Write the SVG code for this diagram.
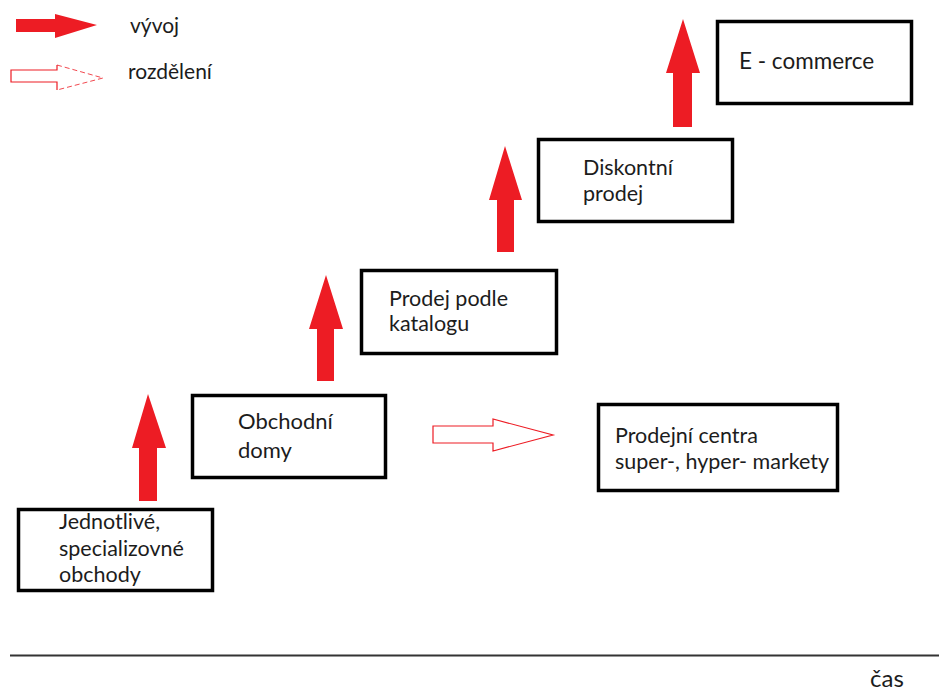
<svg xmlns="http://www.w3.org/2000/svg" width="939" height="693" viewBox="0 0 939 693">
  <style>
    .box { fill: #ffffff; stroke: #000000; stroke-width: 3.5; }
    .lbl { font-family: Lato, "Open Sans", sans-serif; fill: #1c1c1c; }
    .up { fill: #ed1c24; }
    .split { fill: #ffffff; stroke: #ed1c24; stroke-width: 1.2; }
  </style>
  <rect width="939" height="693" fill="#ffffff"/>

  <!-- legend -->
  <g id="legend">
    <polygon class="up" points="16,19 55,19 55,14 97,25 55,38 55,32 16,32"/>
    <text class="lbl" x="130" y="33" font-size="21">vývoj</text>
    <polyline points="57,65 57,70 11,70 11,82 57,82 57,90" fill="none" stroke="#ed1c24" stroke-width="1.2"/>
    <polyline points="57,65 103,78 57,90" fill="none" stroke="#ed1c24" stroke-width="1" stroke-dasharray="5,3" opacity="0.8"/>
    <text class="lbl" x="128" y="79" font-size="21">rozdělení</text>
  </g>

  <!-- development and split arrows -->
  <g id="connectors">
    <polygon class="up" points="139,501 139,448 132,448 148,394 166,448 157,448 157,501"/>
    <polygon class="up" points="317,381 317,329 309,329 326,275 343,329 334,329 334,381"/>
    <polygon class="up" points="497,252 497,200 489,200 505,146 522,200 514,200 514,252"/>
    <polygon class="up" points="673,127 673,73 666,73 683,19 700,73 692,73 692,127"/>
    <polygon class="split" points="433,426 493,426 493,419 553,435 493,451 493,443 433,443"/>
  </g>

  <g id="node-jednotlive">
    <rect class="box" x="18.5" y="509.5" width="194" height="81"/>
    <text class="lbl" font-size="21.5"><tspan x="59" y="529">Jednotlivé,</tspan><tspan x="59" y="556">specializovné</tspan><tspan x="59" y="582">obchody</tspan></text>
  </g>

  <g id="node-obchodni-domy">
    <rect class="box" x="192.5" y="395.5" width="193" height="82"/>
    <text class="lbl" font-size="22"><tspan x="238" y="429">Obchodní</tspan><tspan x="238" y="458">domy</tspan></text>
  </g>

  <g id="node-katalog">
    <rect class="box" x="361.5" y="270.5" width="195" height="83"/>
    <text class="lbl" font-size="21.5"><tspan x="389" y="306">Prodej podle</tspan><tspan x="389" y="331">katalogu</tspan></text>
  </g>

  <g id="node-diskont">
    <rect class="box" x="538.5" y="139.5" width="194" height="82"/>
    <text class="lbl" font-size="21.5"><tspan x="583" y="175">Diskontní</tspan><tspan x="583" y="201">prodej</tspan></text>
  </g>

  <g id="node-ecommerce">
    <rect class="box" x="717.5" y="21.5" width="194" height="82"/>
    <text class="lbl" x="739" y="69" font-size="22.5">E - commerce</text>
  </g>

  <g id="node-prodejni-centra">
    <rect class="box" x="598.5" y="404.5" width="239" height="86"/>
    <text class="lbl" font-size="21.5"><tspan x="615" y="443">Prodejní centra</tspan><tspan x="615" y="469">super-, hyper- markety</tspan></text>
  </g>

  <!-- time axis -->
  <g id="axis">
    <line x1="10" y1="655.5" x2="939" y2="655.5" stroke="#333333" stroke-width="2"/>
    <text class="lbl" x="870" y="687" font-size="24">čas</text>
  </g>
</svg>
